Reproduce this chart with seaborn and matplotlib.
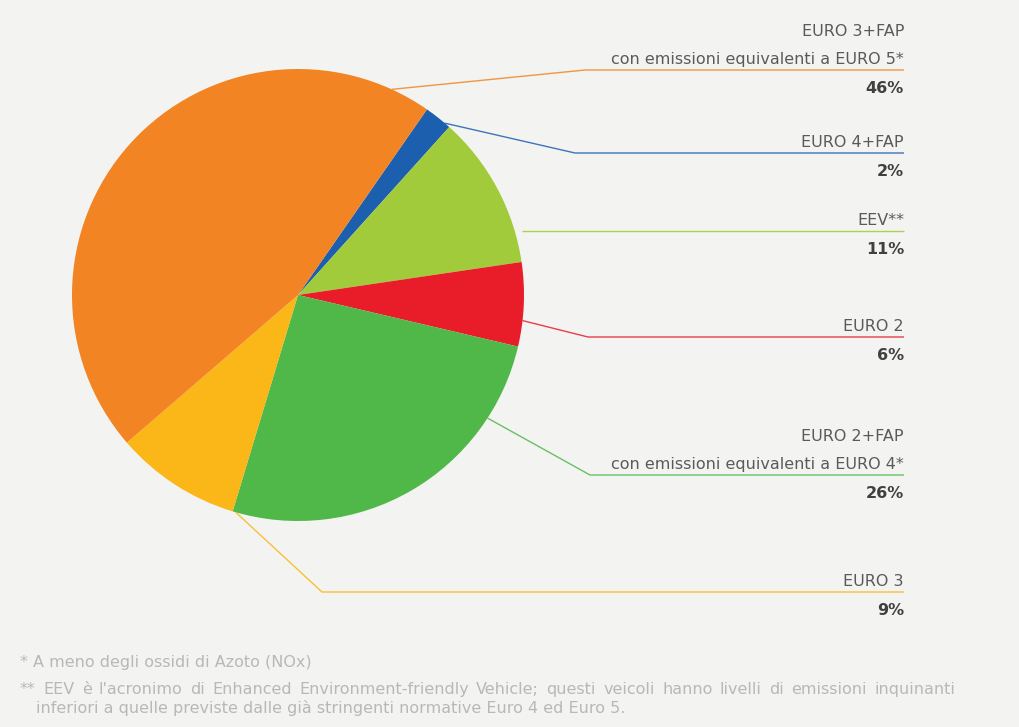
import numpy as np
import matplotlib
matplotlib.use("Agg")
import matplotlib.pyplot as plt
import seaborn as sns

# --- data -----------------------------------------------------------------
categories = [
    "EURO 4+FAP",
    "EEV**",
    "EURO 2",
    "EURO 2+FAP\ncon emissioni equivalenti a EURO 4*",
    "EURO 3",
    "EURO 3+FAP\ncon emissioni equivalenti a EURO 5*",
]
shares = [2, 11, 6, 26, 9, 46]
pct_labels = ["2%", "11%", "6%", "26%", "9%", "46%"]
colors = ["#1c5fae", "#a1cb3a", "#e91d2a", "#50b848", "#fbb617", "#f28423"]

footnote_1 = "* A meno degli ossidi di Azoto (NOx)"
footnote_2 = ("** EEV è l'acronimo di Enhanced Environment-friendly Vehicle; "
              "questi veicoli hanno livelli di emissioni inquinanti")
footnote_3 = "inferiori a quelle previste dalle già stringenti normative Euro 4 ed Euro 5."

# --- layout (pixel space, y measured from the top) ------------------------
W, H = 1020, 727
cx, cy, R = 298, 295, 226
start_angle = 55.2
# rim angle where each leader starts, elbow point, and label line height
leader_angle = [49.5, 8.5, -6.5, -33.0, -106.0, 65.5]
elbow = [(575, 153), None, (588, 337), (590, 475), (322, 592), (585, 70)]
line_y = [153, 231, 337, 475, 592, 70]
x_right = 904

sns.set_theme(style="white")
plt.rcParams["font.family"] = ["DejaVu Sans"]
bg = "#f3f3f2"

fig = plt.figure(figsize=(W / 100, H / 100), dpi=100, facecolor=bg)
ax = fig.add_axes([0, 0, 1, 1], facecolor=bg)


def fy(y):
    return H - y


palette = sns.color_palette(colors)
ax.pie(shares, colors=palette, startangle=start_angle, counterclock=False,
       center=(cx, fy(cy)), radius=R, frame=True,
       wedgeprops=dict(linewidth=0))
ax.set_xlim(0, W)
ax.set_ylim(0, H)
ax.set_aspect("equal")
ax.axis("off")

for i, cat in enumerate(categories):
    a = np.deg2rad(leader_angle[i])
    x0 = cx + R * np.cos(a)
    y0 = cy - R * np.sin(a)
    ly = line_y[i]
    if elbow[i] is None:
        xs, ys = [x0, x_right], [ly, ly]
    else:
        xs = [x0, elbow[i][0], x_right]
        ys = [y0, elbow[i][1], ly]
    ax.plot(xs, [fy(v) for v in ys], color=colors[i], lw=1.0, alpha=0.85,
            solid_capstyle="butt", zorder=3)

    lines = cat.split("\n")
    for k, txt in enumerate(reversed(lines)):
        ax.text(x_right, fy(ly - 6 - 28 * k), txt, ha="right", va="baseline",
                fontsize=11.5, color="#5a5a5a")
    ax.text(x_right, fy(ly + 23), pct_labels[i], ha="right", va="baseline",
            fontsize=11.5, fontweight="bold", color="#404040")

# footnotes; the long line is justified between the margins
fn_style = dict(fontsize=11.5, color="#b8b8b8", va="baseline", ha="left")
ax.text(20, fy(667), footnote_1, **fn_style)
ax.text(36, fy(713), footnote_3, **fn_style)

renderer = fig.canvas.get_renderer()
words = footnote_2.split(" ")
word_texts = [ax.text(0, fy(694), w, **fn_style) for w in words]
widths = [t.get_window_extent(renderer).width for t in word_texts]
left, right = 20, 955
gap = (right - left - sum(widths)) / (len(words) - 1)
x = left
for t, w in zip(word_texts, widths):
    t.set_x(x)
    x += w + gap

fig.savefig("out.png", dpi=100, facecolor=bg)
